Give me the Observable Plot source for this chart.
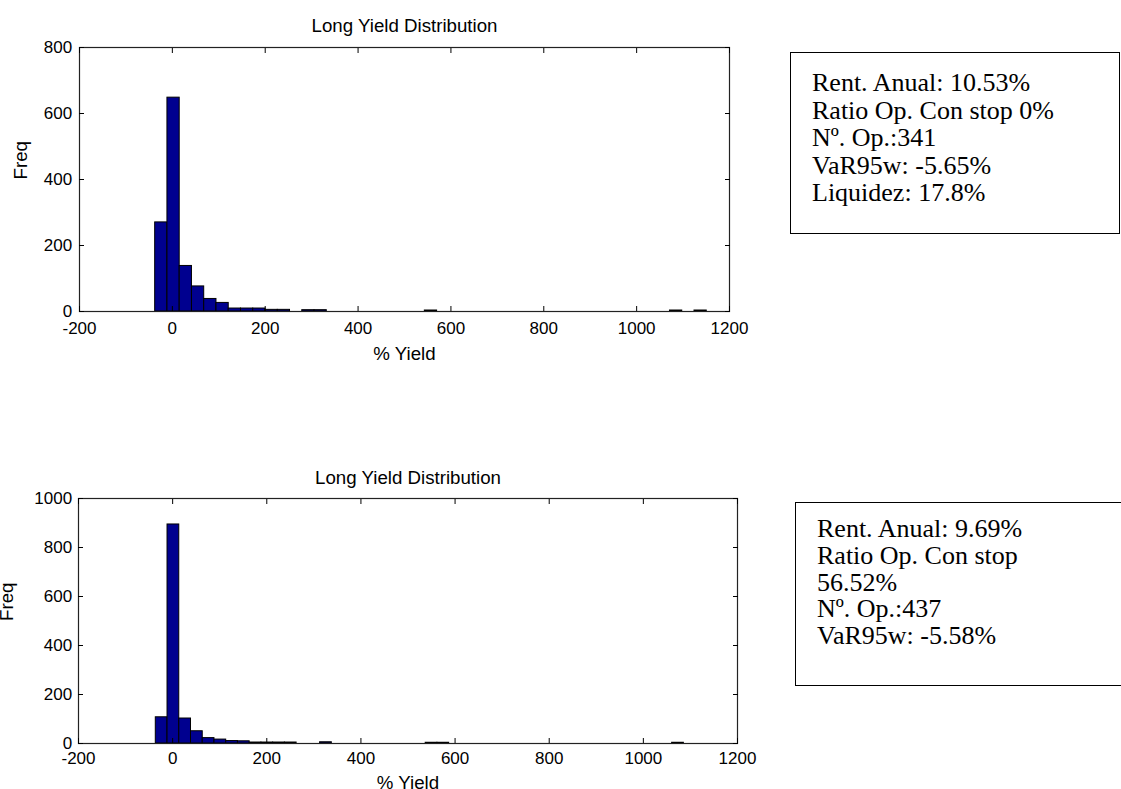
<!DOCTYPE html>
<html><head><meta charset="utf-8">
<script src="https://cdn.jsdelivr.net/npm/d3@7"></script>
<script src="https://cdn.jsdelivr.net/npm/@observablehq/plot@0.6"></script>
<style>
html,body{margin:0;padding:0;background:#fff;width:1121px;height:789px;overflow:hidden;position:relative;}
.chart{position:absolute;left:0;}
.box{position:absolute;border:1.5px solid #000;font-family:"Liberation Serif","Times New Roman",serif;font-size:26px;color:#000;box-sizing:border-box;white-space:nowrap;}
.box div{margin:0;}
</style></head><body>
<div id="c1" class="chart" style="top:0px"></div>
<div id="c2" class="chart" style="top:440px"></div>
<div class="box" id="b1" style="left:790px;top:52px;width:330px;height:182px;padding:16px 0 0 21px;line-height:27.5px"></div>
<div class="box" id="b2" style="left:795px;top:502px;width:400px;height:184px;padding:13px 0 0 21px;line-height:26.8px"></div>
<script>
// ---- data ----
const chartTitle = "Long Yield Distribution";
const xLabel = "% Yield";
const yLabel = "Freq";
const xTicks = [-200, 0, 200, 400, 600, 800, 1000, 1200];
const topYTicks = [0, 200, 400, 600, 800];
const bottomYTicks = [0, 200, 400, 600, 800, 1000];

const topBinStart = -37, topBinWidth = 26.4;
const topCounts = [270, 648, 138, 76, 38, 26, 9, 9, 9, 5,
                   5, 0, 4, 4, 0, 0, 0, 0, 0, 0,
                   0, 0, 3, 0, 0, 0, 0, 0, 0, 0,
                   0, 0, 0, 0, 0, 0, 0, 0, 0, 0,
                   0, 0, 3, 0, 3];

const bottomBinStart = -35.8, bottomBinWidth = 24.93;
const bottomCounts = [107, 894, 102, 50, 22, 16, 10, 9, 4, 4,
                      4, 4, 0, 0, 5, 0, 0, 0, 0, 0,
                      0, 0, 0, 3, 3, 0, 0, 0, 0, 0,
                      0, 0, 0, 0, 0, 0, 0, 0, 0, 0,
                      0, 0, 0, 0, 3];

const topStats = ["Rent. Anual: 10.53%", "Ratio Op. Con stop 0%", "Nº. Op.:341", "VaR95w: -5.65%", "Liquidez: 17.8%"];
const bottomStats = ["Rent. Anual: 9.69%", "Ratio Op. Con stop", "56.52%", "Nº. Op.:437", "VaR95w: -5.58%"];

// ---- build ----
function hist(counts, start, width) {
  return counts.map((c, i) => ({x1: start + i * width, x2: start + (i + 1) * width, count: c}))
               .filter(d => d.count > 0);
}

function makeChart(o) {
  return Plot.plot({
    width: o.width, height: o.height,
    marginLeft: o.ml, marginRight: o.mr, marginTop: o.mt, marginBottom: o.mb,
    style: {fontFamily: "'Liberation Sans', Arial, sans-serif", fontSize: "17px", background: "transparent", color: "#000", overflow: "visible"},
    x: {domain: [-200, 1200]},
    y: {domain: [0, o.yMax]},
    marks: [
      Plot.rectY(o.data, {x1: "x1", x2: "x2", y: "count", fill: "#00008f", stroke: "#000", strokeWidth: 1}),
      Plot.frame({stroke: "#222", strokeWidth: 1.2}),
      Plot.axisX({anchor: "bottom", ticks: xTicks, tickSize: -5, tickPadding: o.xTickOff + 5, tickFormat: d => String(d), label: null, fontSize: 17}),
      Plot.axisX({anchor: "top", ticks: xTicks, tickSize: -5, tickFormat: () => "", label: null}),
      Plot.axisY({anchor: "left", ticks: o.yTicks, tickSize: -5, tickPadding: o.yTickOff + 5, tickFormat: d => String(d), label: null, fontSize: 17}),
      Plot.axisY({anchor: "right", ticks: o.yTicks, tickSize: -5, tickFormat: () => "", label: null}),
      Plot.text([chartTitle], {frameAnchor: "top", lineAnchor: "bottom", dy: o.titleDy, fontSize: 18.7}),
      Plot.text([xLabel], {frameAnchor: "bottom", lineAnchor: "bottom", dy: o.xLabelDy, fontSize: 18.7}),
      Plot.text([yLabel], {frameAnchor: "left", lineAnchor: "bottom", rotate: -90, dx: o.yLabelDx, fontSize: 18.7})
    ]
  });
}

document.getElementById("c1").append(makeChart({
  data: hist(topCounts, topBinStart, topBinWidth), yTicks: topYTicks, yMax: 800,
  width: 780, height: 380, ml: 79, mr: 51, mt: 47, mb: 69,
  xTickOff: 10, yTickOff: 7.3, titleDy: -15.3, xLabelDy: 48, yLabelDx: -52.5
}));
document.getElementById("c2").append(makeChart({
  data: hist(bottomCounts, bottomBinStart, bottomBinWidth), yTicks: bottomYTicks, yMax: 1000,
  width: 780, height: 349, ml: 78, mr: 43, mt: 58, mb: 46,
  xTickOff: 8, yTickOff: 6.3, titleDy: -14.7, xLabelDy: 45.4, yLabelDx: -66
}));

function fillBox(id, lines) {
  const el = document.getElementById(id);
  for (const t of lines) { const d = document.createElement("div"); d.textContent = t; el.append(d); }
}
fillBox("b1", topStats);
fillBox("b2", bottomStats);
</script>
</body></html>
